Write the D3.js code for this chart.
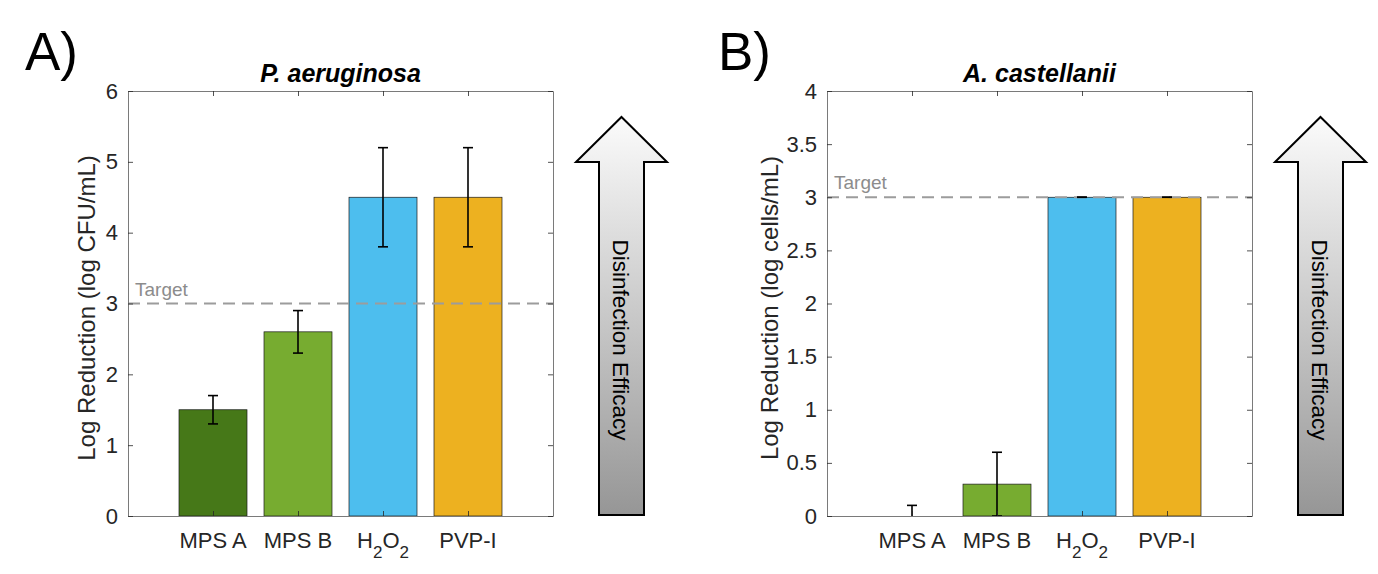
<!DOCTYPE html>
<html>
<head>
<meta charset="utf-8">
<script src="https://cdn.jsdelivr.net/npm/d3@7"></script>
<style>
  html, body { margin: 0; padding: 0; background: #fff; }
  svg { display: block; font-family: "Liberation Sans", Arial, Helvetica, sans-serif; }
</style>
</head>
<body>
<svg id="chart" width="1378" height="574"></svg>
<script>
// ---------- data ----------
const categories = ["MPS A", "MPS B", "H2O2", "PVP-I"];
const barColors = ["#467818", "#77AC30", "#4DBEEE", "#EDB120"];

const aeruginosaValues = [1.5, 2.6, 4.5, 4.5];
const aeruginosaErrors = [0.2, 0.3, 0.7, 0.7];
const aeruginosaTicks = [0, 1, 2, 3, 4, 5, 6];

const castellaniiValues = [0, 0.3, 3, 3];
const castellaniiErrors = [0.1, 0.3, 0, 0];
const castellaniiTicks = [0, 0.5, 1, 1.5, 2, 2.5, 3, 3.5, 4];

const targetValue = 3;
const panelLetters = ["A)", "B)"];
const panelTitles = ["P. aeruginosa", "A. castellanii"];
const yLabels = ["Log Reduction (log CFU/mL)", "Log Reduction (log cells/mL)"];
const arrowLabel = "Disinfection Efficacy";

// ---------- drawing ----------
const svg = d3.select("#chart");
const defs = svg.append("defs");
const grad = defs.append("linearGradient")
  .attr("id", "arrowGrad").attr("x1", 0).attr("y1", 0).attr("x2", 0).attr("y2", 1);
grad.append("stop").attr("offset", "0%").attr("stop-color", "#fbfbfb");
grad.append("stop").attr("offset", "100%").attr("stop-color", "#969696");

const axisColor = "#262626";
const font = 22;

function drawPanel(p) {
  const g = svg.append("g");
  const x = d3.scaleLinear().domain([0, categories.length + 1]).range([p.left, p.left + 425]);
  const y = d3.scaleLinear().domain([0, p.ymax]).range([516, 91]);

  const clipId = "clip" + p.idx;
  defs.append("clipPath").attr("id", clipId)
    .append("rect").attr("x", x.range()[0]).attr("y", 91).attr("width", 425).attr("height", 425);

  const plot = g.append("g").attr("clip-path", `url(#${clipId})`);
  const bw = 0.8 * (x(1) - x(0));

  // bars
  plot.selectAll("rect.bar").data(p.values).join("rect")
    .attr("class", "bar")
    .attr("x", (d, i) => x(i + 1) - bw / 2)
    .attr("width", bw)
    .attr("y", d => y(d))
    .attr("height", d => y(0) - y(d))
    .attr("fill", (d, i) => barColors[i])
    .attr("stroke", "#1a1a1a")
    .attr("stroke-width", 0.7);

  // target line
  plot.append("line")
    .attr("x1", x.range()[0]).attr("x2", x.range()[1])
    .attr("y1", y(targetValue)).attr("y2", y(targetValue))
    .attr("stroke", "#9c9c9c").attr("stroke-width", 2)
    .attr("stroke-dasharray", "12,7");

  // error bars
  const cap = 5;
  const eb = plot.selectAll("g.err").data(p.values).join("g").attr("class", "err")
    .attr("stroke", "#000").attr("stroke-width", 1.6);
  eb.append("line")
    .attr("x1", (d, i) => x(i + 1)).attr("x2", (d, i) => x(i + 1))
    .attr("y1", (d, i) => y(d - p.errors[i])).attr("y2", (d, i) => y(d + p.errors[i]));
  eb.append("line")
    .attr("x1", (d, i) => x(i + 1) - cap).attr("x2", (d, i) => x(i + 1) + cap)
    .attr("y1", (d, i) => y(d + p.errors[i])).attr("y2", (d, i) => y(d + p.errors[i]));
  eb.append("line")
    .attr("x1", (d, i) => x(i + 1) - cap).attr("x2", (d, i) => x(i + 1) + cap)
    .attr("y1", (d, i) => y(d - p.errors[i])).attr("y2", (d, i) => y(d - p.errors[i]));

  // Target text
  g.append("text")
    .attr("x", x.range()[0] + 7).attr("y", y(targetValue) - 8)
    .attr("fill", "#8c8c8c").attr("font-size", 19)
    .text("Target");

  // axes
  const xt = d3.range(1, categories.length + 1);
  const styleAxis = sel => {
    sel.select(".domain").attr("stroke", "#7a7a7a").attr("stroke-width", 1);
    sel.selectAll(".tick line").attr("stroke", axisColor).attr("stroke-width", 0.8);
    sel.selectAll(".tick text").attr("fill", axisColor).attr("font-size", font)
      .attr("font-family", "Liberation Sans, Arial, sans-serif");
  };
  g.append("g").attr("transform", `translate(0,516)`)
    .call(d3.axisBottom(x).tickValues(xt).tickSize(-5).tickSizeOuter(0).tickFormat(""))
    .call(styleAxis);
  g.append("g").attr("transform", `translate(0,91)`)
    .call(d3.axisTop(x).tickValues(xt).tickSize(-5).tickSizeOuter(0).tickFormat(""))
    .call(styleAxis);
  g.append("g").attr("transform", `translate(${x.range()[0]},0)`)
    .call(d3.axisLeft(y).tickValues(p.ticks).tickSize(-5).tickSizeOuter(0).tickPadding(10)
      .tickFormat(d3.format("~g")))
    .call(styleAxis);
  g.append("g").attr("transform", `translate(${x.range()[1]},0)`)
    .call(d3.axisRight(y).tickValues(p.ticks).tickSize(-5).tickSizeOuter(0).tickFormat(""))
    .call(styleAxis);

  // x tick labels (with chemical subscripts)
  const labels = g.selectAll("text.xl").data(categories).join("text")
    .attr("class", "xl")
    .attr("x", (d, i) => x(i + 1)).attr("y", 548)
    .attr("text-anchor", "middle")
    .attr("font-size", font).attr("fill", axisColor);
  labels.each(function (d) {
    const t = d3.select(this);
    if (/^[A-Z][a-z]?\d/.test(d)) {
      const parts = d.match(/[A-Za-z]+|\d+/g);
      let lowered = false;
      parts.forEach(s => {
        if (/^\d+$/.test(s)) {
          t.append("tspan").attr("font-size", 17).attr("dy", lowered ? 0 : 10).text(s);
          lowered = true;
        } else {
          t.append("tspan").attr("dy", lowered ? -10 : 0).text(s);
          lowered = false;
        }
      });
    } else {
      t.text(d);
    }
  });

  // y label
  g.append("text")
    .attr("transform", `translate(${p.ylabX},308) rotate(-90)`)
    .attr("text-anchor", "middle")
    .attr("font-size", 24).attr("fill", axisColor)
    .text(p.ylabel);

  // title
  g.append("text")
    .attr("x", (x.range()[0] + x.range()[1]) / 2).attr("y", 82)
    .attr("text-anchor", "middle")
    .attr("font-size", 25).attr("font-weight", "bold").attr("font-style", "italic")
    .attr("fill", "#000")
    .text(p.title);

  // panel letter
  g.append("text")
    .attr("x", p.letterX).attr("y", 70)
    .attr("font-size", 53).attr("fill", "#000")
    .text(p.letter);

  // arrow
  const cx = p.arrowX;
  const tip = 117, headBase = 162, bottom = 515, hw = 45.5, sw = 22.5;
  const path = d3.path();
  path.moveTo(cx, tip);
  path.lineTo(cx + hw, headBase);
  path.lineTo(cx + sw, headBase);
  path.lineTo(cx + sw, bottom);
  path.lineTo(cx - sw, bottom);
  path.lineTo(cx - sw, headBase);
  path.lineTo(cx - hw, headBase);
  path.closePath();
  g.append("path").attr("d", path.toString())
    .attr("fill", "url(#arrowGrad)").attr("stroke", "#000").attr("stroke-width", 2)
    .attr("stroke-linejoin", "miter");
  g.append("text")
    .attr("transform", `translate(${cx - 8.5},${340}) rotate(90)`)
    .attr("text-anchor", "middle")
    .attr("font-size", 22.5).attr("fill", "#000")
    .text(arrowLabel);
}

drawPanel({ idx: 0, left: 128, ymax: 6, values: aeruginosaValues, errors: aeruginosaErrors,
  ticks: aeruginosaTicks, title: panelTitles[0], ylabel: yLabels[0], letter: panelLetters[0],
  letterX: 25, ylabX: 95, arrowX: 621.5 });
drawPanel({ idx: 1, left: 827, ymax: 4, values: castellaniiValues, errors: castellaniiErrors,
  ticks: castellaniiTicks, title: panelTitles[1], ylabel: yLabels[1], letter: panelLetters[1],
  letterX: 718, ylabX: 778, arrowX: 1320.5 });
</script>
</body>
</html>
